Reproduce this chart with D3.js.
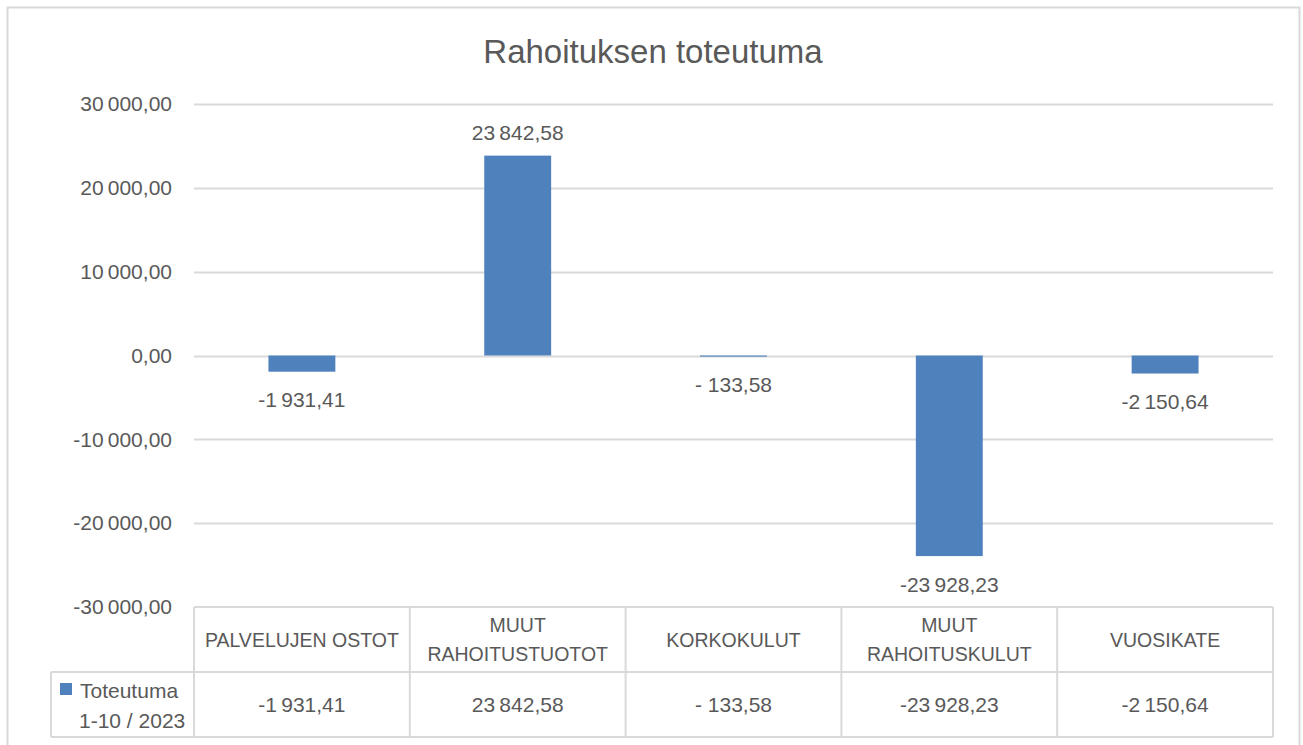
<!DOCTYPE html>
<html>
<head>
<meta charset="utf-8">
<script src="https://cdn.jsdelivr.net/npm/d3@7"></script>
<style>
  html, body { margin: 0; padding: 0; background: #fff; }
  svg { display: block; font-family: "Liberation Sans", Arial, sans-serif; }
</style>
</head>
<body>
<svg id="chart" width="1303" height="745"></svg>
<script>
const title = "Rahoituksen toteutuma";
const categories = ["PALVELUJEN OSTOT", "MUUT RAHOITUSTUOTOT", "KORKOKULUT", "MUUT RAHOITUSKULUT", "VUOSIKATE"];
const categoryLines = [["PALVELUJEN OSTOT"], ["MUUT", "RAHOITUSTUOTOT"], ["KORKOKULUT"], ["MUUT", "RAHOITUSKULUT"], ["VUOSIKATE"]];
const values = [-1931.41, 23842.58, -133.58, -23928.23, -2150.64];
const valueLabels = ["-1\u2009931,41", "23\u2009842,58", "- 133,58", "-23\u2009928,23", "-2\u2009150,64"];
const seriesName = ["Toteutuma", "1-10 / 2023"];
const yTicks = [30000, 20000, 10000, 0, -10000, -20000, -30000];
const yTickLabels = ["30\u2009000,00", "20\u2009000,00", "10\u2009000,00", "0,00", "-10\u2009000,00", "-20\u2009000,00", "-30\u2009000,00"];

const barColor = "#4F81BD";
const gridColor = "#d9d9d9";
const textColor = "#595959";

const svg = d3.select("#chart");

// outer chart border
svg.append("rect").attr("x", 7.5).attr("y", 7.5).attr("width", 1292).attr("height", 760)
  .attr("fill", "#fff").attr("stroke", gridColor).attr("stroke-width", 2);

const plotLeft = 194, plotRight = 1273, plotTop = 104, plotBottom = 607;
const y = d3.scaleLinear().domain([-30000, 30000]).range([plotBottom, plotTop]);
const x = d3.scaleBand().domain(categories).range([plotLeft, plotRight]).paddingInner(0.69).paddingOuter(0.345);
const step = x.step();

// title
svg.append("text").attr("x", 653).attr("y", 51).attr("text-anchor", "middle")
  .attr("dominant-baseline", "central").attr("font-size", 33).attr("fill", textColor).text(title);

// gridlines
svg.append("g").selectAll("line").data(yTicks.filter(t => t !== -30000)).join("line")
  .attr("x1", plotLeft).attr("x2", plotRight)
  .attr("y1", d => Math.round(y(d)) + 0.5).attr("y2", d => Math.round(y(d)) + 0.5)
  .attr("stroke", gridColor).attr("stroke-width", 2);

// y axis labels
const yAxis = d3.axisLeft(y).tickValues(yTicks).tickSize(0).tickPadding(0)
  .tickFormat((d, i) => yTickLabels[i]);
const yg = svg.append("g").attr("transform", `translate(172,0)`).call(yAxis);
yg.select(".domain").remove();
yg.selectAll("text").attr("font-size", 21).attr("fill", textColor)
  .attr("font-family", "Liberation Sans, Arial, sans-serif");

// bars
svg.append("g").selectAll("rect").data(values).join("rect")
  .attr("x", (d, i) => x(categories[i]))
  .attr("width", x.bandwidth())
  .attr("y", d => y(Math.max(0, d)))
  .attr("height", d => Math.abs(y(d) - y(0)))
  .attr("fill", barColor);

// data labels
svg.append("g").selectAll("text").data(values).join("text")
  .attr("x", (d, i) => x(categories[i]) + x.bandwidth() / 2)
  .attr("y", d => d >= 0 ? y(d) - 23 : y(d) + 28)
  .attr("text-anchor", "middle").attr("dominant-baseline", "central")
  .attr("font-size", 21).attr("fill", textColor)
  .text((d, i) => valueLabels[i]);

// data table
const rowTop = plotBottom, rowMid = 672, rowBot = 737, legendLeft = 51;
const tg = svg.append("g").attr("stroke", gridColor).attr("stroke-width", 2);
tg.append("line").attr("x1", plotLeft).attr("x2", plotRight).attr("y1", rowTop).attr("y2", rowTop);
tg.append("line").attr("x1", legendLeft).attr("x2", plotRight).attr("y1", rowMid).attr("y2", rowMid);
tg.append("line").attr("x1", legendLeft).attr("x2", plotRight).attr("y1", rowBot).attr("y2", rowBot);
tg.append("line").attr("x1", legendLeft).attr("x2", legendLeft).attr("y1", rowMid).attr("y2", rowBot);
const bounds = categories.map(c => x(c) - (step - x.bandwidth()) / 2).concat([plotRight]);
tg.selectAll("line.v").data(bounds).join("line").attr("class", "v")
  .attr("x1", d => d).attr("x2", d => d).attr("y1", rowTop).attr("y2", rowBot);

// header labels
const hg = svg.append("g");
categoryLines.forEach((lines, i) => {
  const cx = x(categories[i]) + x.bandwidth() / 2;
  const cy = (rowTop + rowMid) / 2;
  lines.forEach((ln, j) => {
    hg.append("text").attr("x", cx).attr("y", cy + (j - (lines.length - 1) / 2) * 29)
      .attr("text-anchor", "middle").attr("dominant-baseline", "central")
      .attr("font-size", 19.5).attr("fill", textColor).text(ln);
  });
});

// value row
svg.append("g").selectAll("text").data(values).join("text")
  .attr("x", (d, i) => x(categories[i]) + x.bandwidth() / 2)
  .attr("y", (rowMid + rowBot) / 2)
  .attr("text-anchor", "middle").attr("dominant-baseline", "central")
  .attr("font-size", 21).attr("fill", textColor)
  .text((d, i) => valueLabels[i]);

// legend key
svg.append("rect").attr("x", 60).attr("y", 683).attr("width", 12).attr("height", 12).attr("fill", barColor);
seriesName.forEach((s, j) => {
  svg.append("text").attr("x", j === 0 ? 80 : 79).attr("y", 690 + j * 30)
    .attr("dominant-baseline", "central").attr("font-size", 21).attr("fill", textColor).text(s);
});
</script>
</body>
</html>
